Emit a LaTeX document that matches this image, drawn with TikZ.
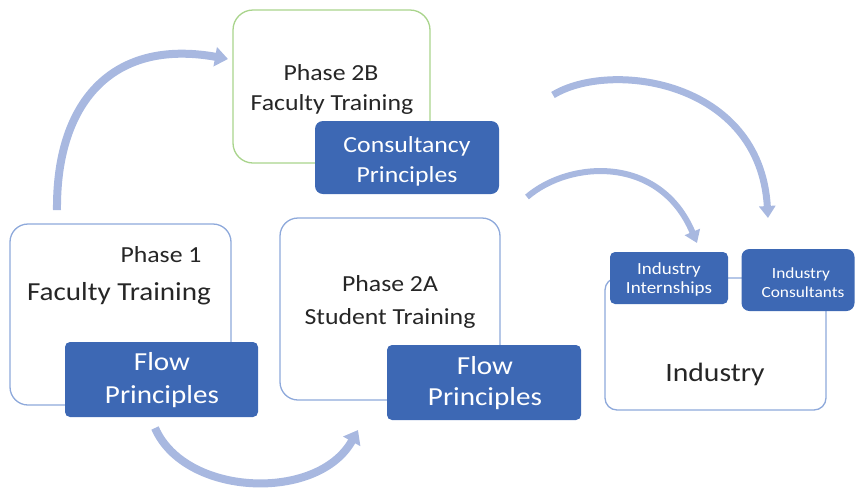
\documentclass[tikz,border=0pt]{standalone}
\usepackage{fontspec}
\setmainfont{Carlito}[FakeStretch=1.12]
\usetikzlibrary{arrows.meta}
\definecolor{arrowblue}{HTML}{A8B8E0}
\definecolor{darkbox}{HTML}{3D68B4}
\definecolor{lineblue}{HTML}{8EA9DB}
\definecolor{linegreen}{HTML}{A9D48C}
\definecolor{textgrey}{HTML}{262626}
\tikzset{
  outerbox/.style={draw=lineblue, line width=1.3pt, fill=white, rounded corners=18pt, inner sep=0pt},
  darkpanel/.style={draw=none, fill=darkbox, rounded corners=5pt, inner sep=0pt},
  label/.style={inner sep=0pt, anchor=base, text=textgrey},
  wlabel/.style={inner sep=0pt, anchor=base, text=white},
  bigarrow/.style={draw=arrowblue, line width=8pt, -{Triangle[length=13pt,width=19pt]}},
  midarrow/.style={draw=arrowblue, line width=6.5pt, -{Triangle[length=12pt,width=16pt]}},
}
\newcommand{\fs}[1]{\fontsize{#1}{#1}\selectfont}
\begin{document}
\begin{tikzpicture}[x=1pt,y=-1pt]
\useasboundingbox (0,0) rectangle (855,491);

% outline boxes
\node[outerbox, draw=linegreen, minimum width=197pt, minimum height=153pt, rounded corners=20pt] (p2b) at (331.5,86.5) {};
\node[outerbox, minimum width=221pt, minimum height=181pt] (p1) at (120.5,314.5) {};
\node[outerbox, minimum width=220pt, minimum height=182pt] (p2a) at (390,309) {};
\node[outerbox, minimum width=221pt, minimum height=132pt, rounded corners=12pt] (ind) at (715.5,344) {};

% dark panels
\node[darkpanel, minimum width=184pt, minimum height=73pt, rounded corners=8pt] (cons) at (407,157.5) {};
\node[darkpanel, minimum width=193pt, minimum height=75pt] (flow1) at (161.5,379.5) {};
\node[darkpanel, minimum width=194pt, minimum height=75pt] (flow2) at (484,382.5) {};
\node[darkpanel, minimum width=118pt, minimum height=52pt] (intern) at (669,278) {};
\node[darkpanel, minimum width=113pt, minimum height=62pt, rounded corners=8pt] (consult) at (798,280) {};

% texts
\node[label, font=\fs{23}] (t2b1) at (331,80) {Phase 2B};
\node[label, font=\fs{23}] (t2b2) at (332,110) {Faculty Training};
\node[wlabel, font=\fs{23}] (tc1) at (407,152) {Consultancy};
\node[wlabel, font=\fs{23}] (tc2) at (407,182) {Principles};

\node[label, font=\fs{23}] (t11) at (161,262) {Phase 1};
\node[label, font=\fs{26}] (t12) at (119,300) {Faculty Training};
\node[wlabel, font=\fs{26}] (tf11) at (162,370) {Flow};
\node[wlabel, font=\fs{26}] (tf12) at (162,403) {Principles};

\node[label, font=\fs{23}] (t2a1) at (390,291) {Phase 2A};
\node[label, font=\fs{23}] (t2a2) at (390,324) {Student Training};
\node[wlabel, font=\fs{26}] (tf21) at (485,374) {Flow};
\node[wlabel, font=\fs{26}] (tf22) at (485,405) {Principles};

\node[label, font=\fs{26.5}] (tind) at (715,381) {Industry};
\node[wlabel, font=\fs{17}] (ti1) at (669,274) {Industry};
\node[wlabel, font=\fs{17}] (ti2) at (669,293) {Internships};
\node[wlabel, font=\fs{15.5}] (tc3) at (801,278) {Industry};
\node[wlabel, font=\fs{15.5}] (tc4) at (803,297) {Consultants};

% curved arrows
\coordinate (a1s) at (57,210);
\coordinate (a1e) at (228,59);
\draw[bigarrow] (a1s) .. controls (56,105) and (110,38) .. (a1e);
\coordinate (a2s) at (155,428);
\coordinate (a2e) at (358,430);
\draw[bigarrow] (a2s) .. controls (185,497) and (318,502) .. (a2e);
\coordinate (a3s) at (553,95);
\coordinate (a3e) at (768,218);
\draw[midarrow, line width=7pt] (a3s) .. controls (610,60) and (760,80) .. (a3e);
\coordinate (a4s) at (527,197);
\coordinate (a4e) at (697,243);
\draw[midarrow, line width=6pt] (a4s) .. controls (570,160) and (660,155) .. (a4e);
\end{tikzpicture}
\end{document}
